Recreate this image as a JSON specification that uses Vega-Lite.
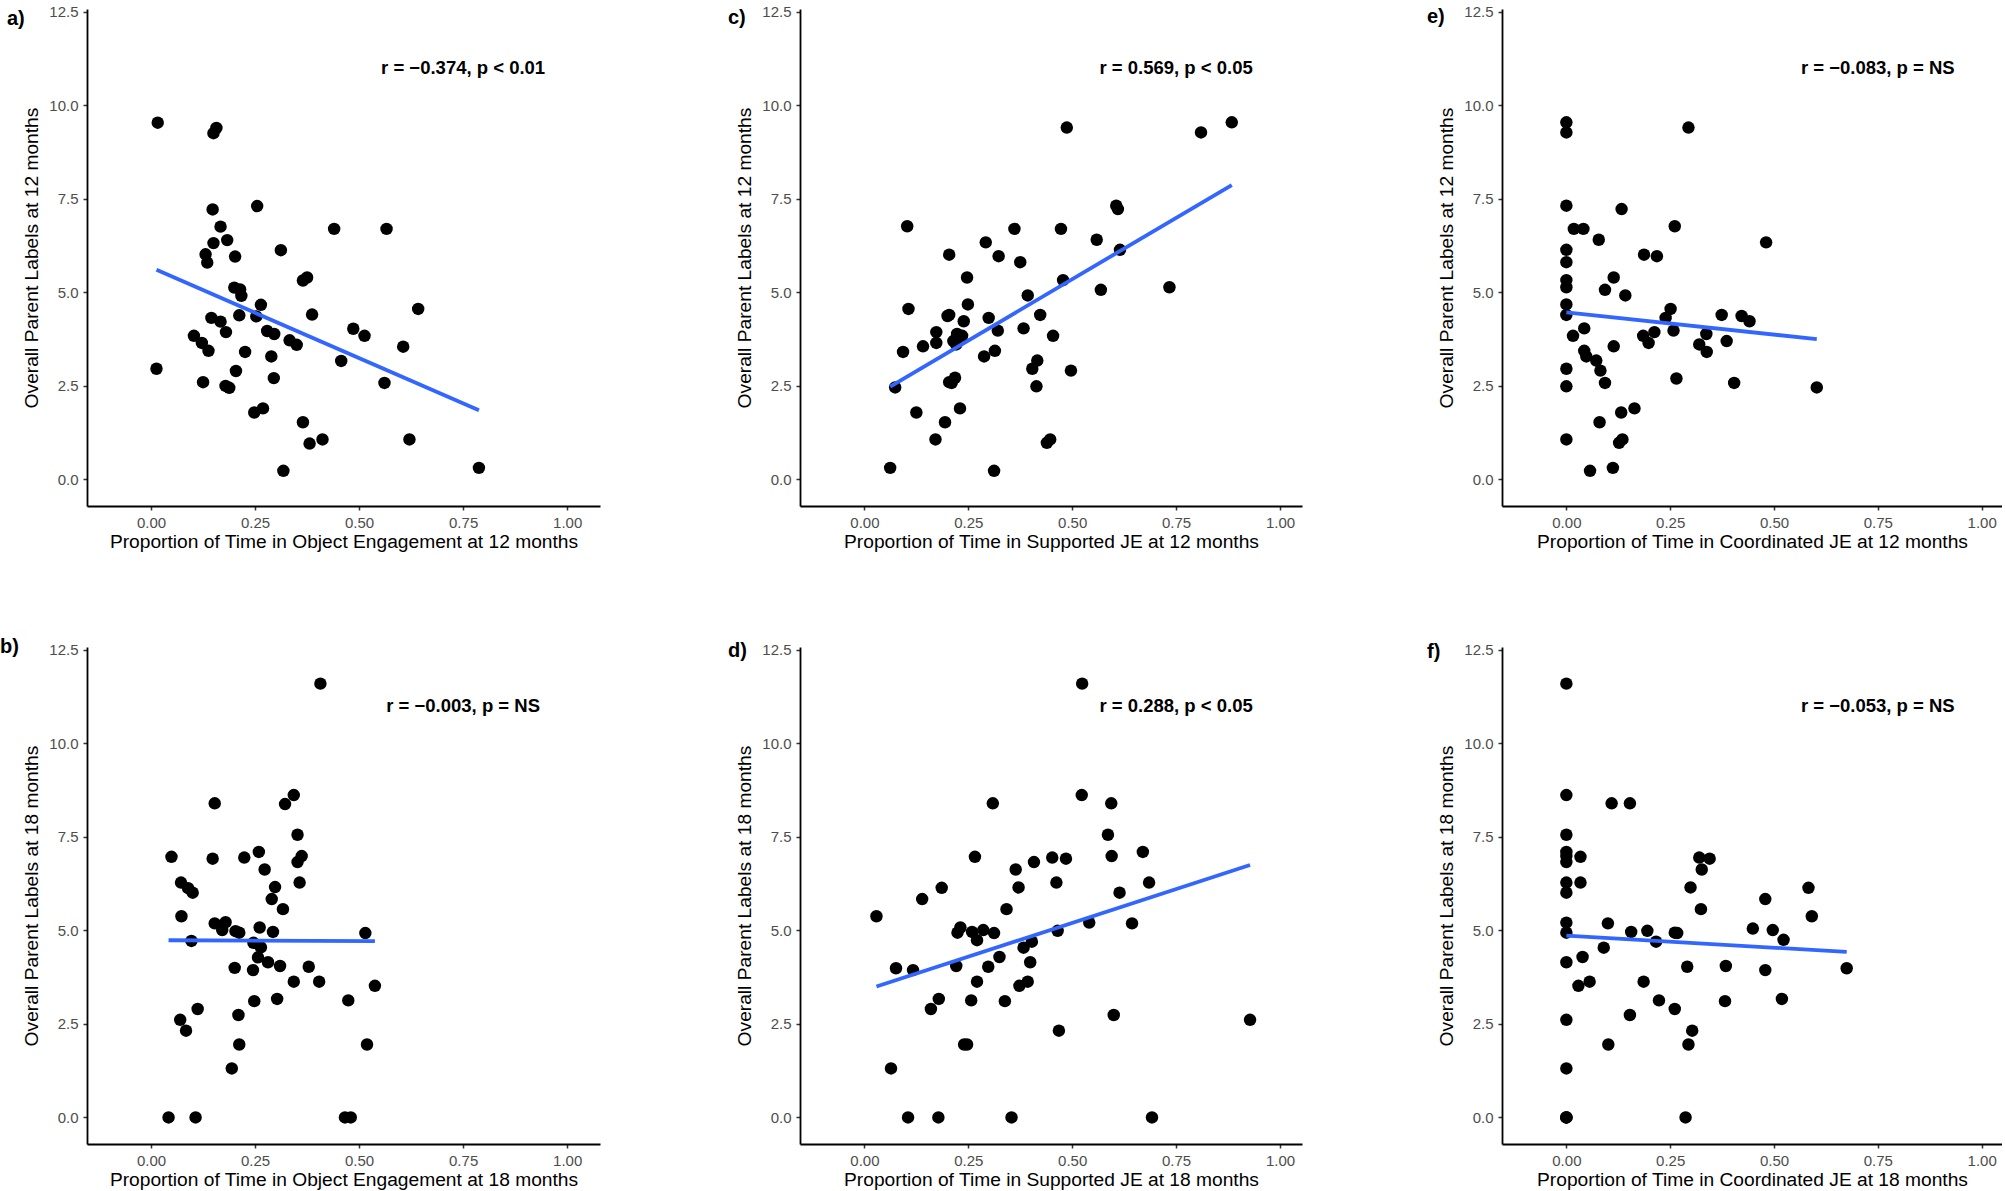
{
"$schema":"https://vega.github.io/schema/vega-lite/v6.json",
"background":"white",
"padding":{"left":0,"top":4,"right":0,"bottom":0},
"columns":3,
"spacing":{"row":141,"column":200},
"bounds":"flush",
"config":{
 "view":{"stroke":null},
 "axis":{"grid":false,"domainColor":"black","domainWidth":1.8,"tickColor":"#333333","tickWidth":1.5,"tickSize":4,"labelColor":"#4D4D4D","labelFontSize":15,"labelFont":"Liberation Sans","titleFont":"Liberation Sans","titleFontSize":19.2,"titleFontWeight":"normal","titleColor":"black","labelFlush":false},
 "axisX":{"labelPadding":5,"titlePadding":2},
 "axisY":{"labelPadding":5,"titlePadding":7.5},
 "title":{"anchor":"start","frame":"group","fontSize":20,"fontWeight":"bold","font":"Liberation Sans","color":"black","offset":0,"baseline":"middle"}
},
"datasets":{
"a":[{"x":0.016,"y":9.54},{"x":0.150,"y":9.26},{"x":0.157,"y":9.40},{"x":0.148,"y":7.22},{"x":0.255,"y":7.31},{"x":0.167,"y":6.76},{"x":0.150,"y":6.32},{"x":0.183,"y":6.40},{"x":0.131,"y":6.02},{"x":0.135,"y":5.80},{"x":0.202,"y":5.96},{"x":0.312,"y":6.13},{"x":0.440,"y":6.70},{"x":0.566,"y":6.70},{"x":0.365,"y":5.32},{"x":0.375,"y":5.40},{"x":0.200,"y":5.13},{"x":0.214,"y":5.08},{"x":0.217,"y":4.91},{"x":0.264,"y":4.67},{"x":0.212,"y":4.39},{"x":0.253,"y":4.36},{"x":0.387,"y":4.41},{"x":0.642,"y":4.56},{"x":0.145,"y":4.32},{"x":0.167,"y":4.22},{"x":0.180,"y":3.94},{"x":0.103,"y":3.84},{"x":0.122,"y":3.65},{"x":0.138,"y":3.44},{"x":0.279,"y":3.97},{"x":0.296,"y":3.89},{"x":0.333,"y":3.72},{"x":0.350,"y":3.60},{"x":0.486,"y":4.03},{"x":0.513,"y":3.84},{"x":0.606,"y":3.55},{"x":0.226,"y":3.41},{"x":0.289,"y":3.29},{"x":0.457,"y":3.17},{"x":0.013,"y":2.96},{"x":0.204,"y":2.90},{"x":0.295,"y":2.71},{"x":0.125,"y":2.60},{"x":0.179,"y":2.50},{"x":0.188,"y":2.45},{"x":0.561,"y":2.58},{"x":0.248,"y":1.79},{"x":0.269,"y":1.90},{"x":0.365,"y":1.53},{"x":0.381,"y":0.96},{"x":0.412,"y":1.07},{"x":0.621,"y":1.07},{"x":0.318,"y":0.23},{"x":0.788,"y":0.31}],
"c":[{"x":0.884,"y":9.55},{"x":0.810,"y":9.28},{"x":0.487,"y":9.41},{"x":0.606,"y":7.32},{"x":0.610,"y":7.23},{"x":0.103,"y":6.77},{"x":0.361,"y":6.70},{"x":0.473,"y":6.70},{"x":0.559,"y":6.41},{"x":0.292,"y":6.34},{"x":0.204,"y":6.01},{"x":0.323,"y":5.97},{"x":0.375,"y":5.81},{"x":0.615,"y":6.14},{"x":0.247,"y":5.40},{"x":0.478,"y":5.33},{"x":0.569,"y":5.07},{"x":0.734,"y":5.14},{"x":0.393,"y":4.92},{"x":0.249,"y":4.68},{"x":0.106,"y":4.56},{"x":0.200,"y":4.37},{"x":0.204,"y":4.40},{"x":0.299,"y":4.32},{"x":0.423,"y":4.40},{"x":0.239,"y":4.23},{"x":0.173,"y":3.94},{"x":0.223,"y":3.89},{"x":0.235,"y":3.84},{"x":0.321,"y":3.98},{"x":0.383,"y":4.04},{"x":0.454,"y":3.84},{"x":0.214,"y":3.70},{"x":0.221,"y":3.61},{"x":0.173,"y":3.65},{"x":0.141,"y":3.56},{"x":0.093,"y":3.41},{"x":0.314,"y":3.44},{"x":0.288,"y":3.29},{"x":0.416,"y":3.18},{"x":0.404,"y":2.96},{"x":0.497,"y":2.91},{"x":0.074,"y":2.46},{"x":0.204,"y":2.60},{"x":0.218,"y":2.72},{"x":0.210,"y":2.58},{"x":0.414,"y":2.49},{"x":0.125,"y":1.79},{"x":0.230,"y":1.90},{"x":0.194,"y":1.53},{"x":0.171,"y":1.07},{"x":0.439,"y":0.98},{"x":0.447,"y":1.07},{"x":0.062,"y":0.31},{"x":0.312,"y":0.23}],
"e":[{"x":0,"y":9.55},{"x":0,"y":9.28},{"x":0.294,"y":9.41},{"x":0,"y":7.32},{"x":0.133,"y":7.23},{"x":0.018,"y":6.70},{"x":0.041,"y":6.70},{"x":0.078,"y":6.41},{"x":0.261,"y":6.77},{"x":0.481,"y":6.34},{"x":0,"y":6.14},{"x":0,"y":5.81},{"x":0.187,"y":6.01},{"x":0.218,"y":5.97},{"x":0,"y":5.33},{"x":0,"y":5.14},{"x":0.114,"y":5.40},{"x":0.093,"y":5.07},{"x":0.142,"y":4.92},{"x":0,"y":4.68},{"x":0,"y":4.40},{"x":0.251,"y":4.56},{"x":0.239,"y":4.32},{"x":0.374,"y":4.40},{"x":0.422,"y":4.37},{"x":0.441,"y":4.23},{"x":0.043,"y":4.04},{"x":0.016,"y":3.84},{"x":0.185,"y":3.84},{"x":0.212,"y":3.94},{"x":0.258,"y":3.98},{"x":0.337,"y":3.89},{"x":0.198,"y":3.65},{"x":0.114,"y":3.56},{"x":0.320,"y":3.61},{"x":0.386,"y":3.70},{"x":0.338,"y":3.41},{"x":0.043,"y":3.44},{"x":0.048,"y":3.29},{"x":0.072,"y":3.18},{"x":0.082,"y":2.91},{"x":0,"y":2.96},{"x":0,"y":2.49},{"x":0.093,"y":2.58},{"x":0.265,"y":2.70},{"x":0.404,"y":2.58},{"x":0.603,"y":2.46},{"x":0.164,"y":1.90},{"x":0.132,"y":1.79},{"x":0.080,"y":1.53},{"x":0,"y":1.07},{"x":0.127,"y":0.98},{"x":0.135,"y":1.07},{"x":0.057,"y":0.23},{"x":0.112,"y":0.31}],
"b":[{"x":0.407,"y":11.60},{"x":0.153,"y":8.40},{"x":0.322,"y":8.38},{"x":0.343,"y":8.62},{"x":0.352,"y":7.56},{"x":0.049,"y":6.97},{"x":0.148,"y":6.92},{"x":0.224,"y":6.95},{"x":0.259,"y":7.10},{"x":0.362,"y":6.99},{"x":0.352,"y":6.83},{"x":0.273,"y":6.63},{"x":0.072,"y":6.28},{"x":0.089,"y":6.13},{"x":0.100,"y":6.01},{"x":0.357,"y":6.28},{"x":0.298,"y":6.16},{"x":0.290,"y":5.84},{"x":0.317,"y":5.57},{"x":0.073,"y":5.38},{"x":0.153,"y":5.19},{"x":0.179,"y":5.22},{"x":0.171,"y":5.01},{"x":0.203,"y":4.98},{"x":0.212,"y":4.94},{"x":0.261,"y":5.08},{"x":0.293,"y":4.96},{"x":0.515,"y":4.93},{"x":0.097,"y":4.72},{"x":0.246,"y":4.67},{"x":0.264,"y":4.55},{"x":0.257,"y":4.28},{"x":0.281,"y":4.15},{"x":0.201,"y":4.00},{"x":0.245,"y":3.94},{"x":0.310,"y":4.05},{"x":0.379,"y":4.03},{"x":0.343,"y":3.63},{"x":0.404,"y":3.63},{"x":0.538,"y":3.52},{"x":0.248,"y":3.11},{"x":0.303,"y":3.17},{"x":0.474,"y":3.13},{"x":0.112,"y":2.90},{"x":0.210,"y":2.74},{"x":0.070,"y":2.61},{"x":0.084,"y":2.32},{"x":0.212,"y":1.95},{"x":0.519,"y":1.95},{"x":0.194,"y":1.31},{"x":0.042,"y":0},{"x":0.107,"y":0},{"x":0.466,"y":0},{"x":0.480,"y":0}],
"d":[{"x":0.524,"y":11.60},{"x":0.523,"y":8.62},{"x":0.309,"y":8.40},{"x":0.594,"y":8.40},{"x":0.586,"y":7.56},{"x":0.266,"y":6.97},{"x":0.452,"y":6.95},{"x":0.485,"y":6.92},{"x":0.595,"y":6.99},{"x":0.670,"y":7.10},{"x":0.408,"y":6.83},{"x":0.364,"y":6.63},{"x":0.186,"y":6.14},{"x":0.371,"y":6.15},{"x":0.462,"y":6.28},{"x":0.685,"y":6.28},{"x":0.614,"y":6.01},{"x":0.139,"y":5.84},{"x":0.342,"y":5.57},{"x":0.029,"y":5.38},{"x":0.541,"y":5.21},{"x":0.644,"y":5.19},{"x":0.231,"y":5.08},{"x":0.224,"y":4.94},{"x":0.259,"y":4.96},{"x":0.286,"y":5.01},{"x":0.312,"y":4.93},{"x":0.465,"y":4.99},{"x":0.271,"y":4.74},{"x":0.403,"y":4.70},{"x":0.383,"y":4.54},{"x":0.325,"y":4.29},{"x":0.399,"y":4.15},{"x":0.076,"y":3.99},{"x":0.117,"y":3.94},{"x":0.221,"y":4.05},{"x":0.298,"y":4.03},{"x":0.271,"y":3.63},{"x":0.393,"y":3.63},{"x":0.373,"y":3.52},{"x":0.179,"y":3.17},{"x":0.160,"y":2.90},{"x":0.257,"y":3.13},{"x":0.338,"y":3.11},{"x":0.600,"y":2.74},{"x":0.928,"y":2.61},{"x":0.468,"y":2.32},{"x":0.240,"y":1.95},{"x":0.247,"y":1.95},{"x":0.064,"y":1.31},{"x":0.105,"y":0},{"x":0.178,"y":0},{"x":0.354,"y":0},{"x":0.692,"y":0}],
"f":[{"x":0,"y":11.60},{"x":0,"y":8.62},{"x":0.109,"y":8.40},{"x":0.153,"y":8.40},{"x":0,"y":7.56},{"x":0,"y":7.10},{"x":0,"y":6.99},{"x":0,"y":6.83},{"x":0.034,"y":6.97},{"x":0.320,"y":6.95},{"x":0.345,"y":6.92},{"x":0.326,"y":6.63},{"x":0,"y":6.28},{"x":0.034,"y":6.28},{"x":0,"y":6.01},{"x":0.299,"y":6.15},{"x":0.583,"y":6.14},{"x":0.479,"y":5.84},{"x":0.324,"y":5.57},{"x":0.591,"y":5.38},{"x":0,"y":5.21},{"x":0,"y":4.94},{"x":0.100,"y":5.19},{"x":0.156,"y":4.96},{"x":0.195,"y":4.99},{"x":0.261,"y":4.94},{"x":0.267,"y":4.93},{"x":0.449,"y":5.05},{"x":0.497,"y":5.01},{"x":0.523,"y":4.75},{"x":0.216,"y":4.70},{"x":0.090,"y":4.54},{"x":0.039,"y":4.29},{"x":0,"y":4.15},{"x":0.291,"y":4.03},{"x":0.384,"y":4.05},{"x":0.479,"y":3.94},{"x":0.675,"y":3.99},{"x":0.029,"y":3.52},{"x":0.056,"y":3.63},{"x":0.186,"y":3.63},{"x":0.223,"y":3.13},{"x":0.382,"y":3.11},{"x":0.519,"y":3.17},{"x":0.261,"y":2.90},{"x":0.153,"y":2.74},{"x":0,"y":2.61},{"x":0.303,"y":2.32},{"x":0.101,"y":1.95},{"x":0.294,"y":1.95},{"x":0,"y":1.31},{"x":0,"y":0},{"x":0,"y":0},{"x":0,"y":0},{"x":0.287,"y":0}]
},
"concat":[
{"width":513,"height":497,"title":{"text":"a)","dx":-80,"dy":28},
 "layer":[
  {"data":{"name":"a"},"mark":{"type":"circle","size":155,"color":"black","opacity":1},
   "encoding":{"x":{"field":"x","type":"quantitative","scale":{"domain":[-0.154,1.079],"nice":false,"zero":false},"axis":{"title":"Proportion of Time in Object Engagement at 12 months","values":[0,0.25,0.5,0.75,1],"format":".2f"}},
    "y":{"field":"y","type":"quantitative","scale":{"domain":[-0.71,12.58],"nice":false,"zero":false},"axis":{"title":"Overall Parent Labels at 12 months","values":[0,2.5,5,7.5,10,12.5],"format":".1f"}}}},
  {"data":{"name":"a"},"transform":[{"regression":"y","on":"x"}],"mark":{"type":"line","color":"#3366FF","strokeWidth":3.8},"encoding":{"x":{"field":"x","type":"quantitative"},"y":{"field":"y","type":"quantitative"}}},
  {"data":{"values":[{"x":0.75,"y":11,"label":"r = −0.374, p < 0.01"}]},"mark":{"type":"text","fontSize":18.5,"fontWeight":"bold","font":"Liberation Sans","align":"center","baseline":"middle","color":"black"},"encoding":{"x":{"field":"x","type":"quantitative"},"y":{"field":"y","type":"quantitative"},"text":{"field":"label"}}}
 ]},
{"width":502,"height":497,"title":{"text":"c)","dx":-72,"dy":27},
 "layer":[
  {"data":{"name":"c"},"mark":{"type":"circle","size":155,"color":"black","opacity":1},
   "encoding":{"x":{"field":"x","type":"quantitative","scale":{"domain":[-0.155,1.053],"nice":false,"zero":false},"axis":{"title":"Proportion of Time in Supported JE at 12 months","values":[0,0.25,0.5,0.75,1],"format":".2f"}},
    "y":{"field":"y","type":"quantitative","scale":{"domain":[-0.71,12.58],"nice":false,"zero":false},"axis":{"title":"Overall Parent Labels at 12 months","values":[0,2.5,5,7.5,10,12.5],"format":".1f"}}}},
  {"data":{"name":"c"},"transform":[{"regression":"y","on":"x"}],"mark":{"type":"line","color":"#3366FF","strokeWidth":3.8},"encoding":{"x":{"field":"x","type":"quantitative"},"y":{"field":"y","type":"quantitative"}}},
  {"data":{"values":[{"x":0.75,"y":11,"label":"r = 0.569, p < 0.05"}]},"mark":{"type":"text","fontSize":18.5,"fontWeight":"bold","font":"Liberation Sans","align":"center","baseline":"middle","color":"black"},"encoding":{"x":{"field":"x","type":"quantitative"},"y":{"field":"y","type":"quantitative"},"text":{"field":"label"}}}
 ]},
{"width":500,"height":497,"title":{"text":"e)","dx":-75,"dy":26},
 "layer":[
  {"data":{"name":"e"},"mark":{"type":"circle","size":155,"color":"black","opacity":1},
   "encoding":{"x":{"field":"x","type":"quantitative","scale":{"domain":[-0.155,1.049],"nice":false,"zero":false},"axis":{"title":"Proportion of Time in Coordinated JE at 12 months","values":[0,0.25,0.5,0.75,1],"format":".2f"}},
    "y":{"field":"y","type":"quantitative","scale":{"domain":[-0.71,12.58],"nice":false,"zero":false},"axis":{"title":"Overall Parent Labels at 12 months","values":[0,2.5,5,7.5,10,12.5],"format":".1f"}}}},
  {"data":{"name":"e"},"transform":[{"regression":"y","on":"x"}],"mark":{"type":"line","color":"#3366FF","strokeWidth":3.8},"encoding":{"x":{"field":"x","type":"quantitative"},"y":{"field":"y","type":"quantitative"}}},
  {"data":{"values":[{"x":0.75,"y":11,"label":"r = −0.083, p = NS"}]},"mark":{"type":"text","fontSize":18.5,"fontWeight":"bold","font":"Liberation Sans","align":"center","baseline":"middle","color":"black"},"encoding":{"x":{"field":"x","type":"quantitative"},"y":{"field":"y","type":"quantitative"},"text":{"field":"label"}}}
 ]},
{"width":513,"height":497,"title":{"text":"b)","dx":-87,"dy":18},
 "layer":[
  {"data":{"name":"b"},"mark":{"type":"circle","size":155,"color":"black","opacity":1},
   "encoding":{"x":{"field":"x","type":"quantitative","scale":{"domain":[-0.154,1.079],"nice":false,"zero":false},"axis":{"title":"Proportion of Time in Object Engagement at 18 months","values":[0,0.25,0.5,0.75,1],"format":".2f"}},
    "y":{"field":"y","type":"quantitative","scale":{"domain":[-0.71,12.58],"nice":false,"zero":false},"axis":{"title":"Overall Parent Labels at 18 months","values":[0,2.5,5,7.5,10,12.5],"format":".1f"}}}},
  {"data":{"name":"b"},"transform":[{"regression":"y","on":"x"}],"mark":{"type":"line","color":"#3366FF","strokeWidth":3.8},"encoding":{"x":{"field":"x","type":"quantitative"},"y":{"field":"y","type":"quantitative"}}},
  {"data":{"values":[{"x":0.75,"y":11,"label":"r = −0.003, p = NS"}]},"mark":{"type":"text","fontSize":18.5,"fontWeight":"bold","font":"Liberation Sans","align":"center","baseline":"middle","color":"black"},"encoding":{"x":{"field":"x","type":"quantitative"},"y":{"field":"y","type":"quantitative"},"text":{"field":"label"}}}
 ]},
{"width":502,"height":497,"title":{"text":"d)","dx":-72,"dy":22},
 "layer":[
  {"data":{"name":"d"},"mark":{"type":"circle","size":155,"color":"black","opacity":1},
   "encoding":{"x":{"field":"x","type":"quantitative","scale":{"domain":[-0.155,1.053],"nice":false,"zero":false},"axis":{"title":"Proportion of Time in Supported JE at 18 months","values":[0,0.25,0.5,0.75,1],"format":".2f"}},
    "y":{"field":"y","type":"quantitative","scale":{"domain":[-0.71,12.58],"nice":false,"zero":false},"axis":{"title":"Overall Parent Labels at 18 months","values":[0,2.5,5,7.5,10,12.5],"format":".1f"}}}},
  {"data":{"name":"d"},"transform":[{"regression":"y","on":"x"}],"mark":{"type":"line","color":"#3366FF","strokeWidth":3.8},"encoding":{"x":{"field":"x","type":"quantitative"},"y":{"field":"y","type":"quantitative"}}},
  {"data":{"values":[{"x":0.75,"y":11,"label":"r = 0.288, p < 0.05"}]},"mark":{"type":"text","fontSize":18.5,"fontWeight":"bold","font":"Liberation Sans","align":"center","baseline":"middle","color":"black"},"encoding":{"x":{"field":"x","type":"quantitative"},"y":{"field":"y","type":"quantitative"},"text":{"field":"label"}}}
 ]},
{"width":500,"height":497,"title":{"text":"f)","dx":-75,"dy":23},
 "layer":[
  {"data":{"name":"f"},"mark":{"type":"circle","size":155,"color":"black","opacity":1},
   "encoding":{"x":{"field":"x","type":"quantitative","scale":{"domain":[-0.155,1.049],"nice":false,"zero":false},"axis":{"title":"Proportion of Time in Coordinated JE at 18 months","values":[0,0.25,0.5,0.75,1],"format":".2f"}},
    "y":{"field":"y","type":"quantitative","scale":{"domain":[-0.71,12.58],"nice":false,"zero":false},"axis":{"title":"Overall Parent Labels at 18 months","values":[0,2.5,5,7.5,10,12.5],"format":".1f"}}}},
  {"data":{"name":"f"},"transform":[{"regression":"y","on":"x"}],"mark":{"type":"line","color":"#3366FF","strokeWidth":3.8},"encoding":{"x":{"field":"x","type":"quantitative"},"y":{"field":"y","type":"quantitative"}}},
  {"data":{"values":[{"x":0.75,"y":11,"label":"r = −0.053, p = NS"}]},"mark":{"type":"text","fontSize":18.5,"fontWeight":"bold","font":"Liberation Sans","align":"center","baseline":"middle","color":"black"},"encoding":{"x":{"field":"x","type":"quantitative"},"y":{"field":"y","type":"quantitative"},"text":{"field":"label"}}}
 ]}
]
}
